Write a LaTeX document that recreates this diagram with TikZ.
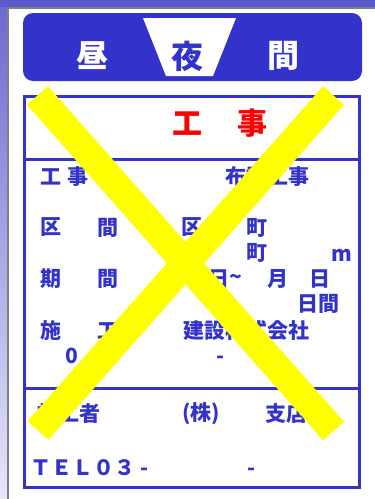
\documentclass[tikz,border=0pt]{standalone}
\usepackage{fontspec}
\newfontfamily\jp{Noto Sans CJK JP}
\definecolor{signblue}{HTML}{3333CC}
\definecolor{framepurple}{HTML}{5A5ACD}
\definecolor{crossyellow}{HTML}{FFFF00}

\tikzset{
	txt/.style={text=signblue,inner sep=0pt,font=\jp\bfseries\fontsize{21}{21}\selectfont},
	head/.style={inner sep=0pt,font=\jp\bfseries\fontsize{32}{32}\selectfont},
	title/.style={text=red,inner sep=0pt,font=\jp\bfseries\fontsize{30}{30}\selectfont},
}

\begin{document}
\begin{tikzpicture}[x=1pt,y=-1pt]
	\useasboundingbox (0,0) rectangle (375,499);

	% window edge
	\fill[framepurple] (0,0) rectangle (375,7);
	\shade[top color=framepurple!90,bottom color=framepurple!15] (0,7) rectangle (7,499);
	\fill[gray] (7,7) rectangle (9,499);
	\fill[gray] (7,7) rectangle (375,8.5);

	% banner
	\coordinate (b1) at (23,13);
	\coordinate (b2) at (362,81);
	\fill[signblue,rounded corners=10pt] (b1) rectangle (b2);
	\fill[white] (143,18) -- (236,18) -- (213,76) -- (166,76) -- cycle;
	\node[head,text=white] (hiru) at (92,56) {昼};
	\node[head,text=signblue] (yoru) at (187,56) {夜};
	\node[head,text=white] (kan) at (283,56) {間};

	% board
	\coordinate (p) at (24.5,96.5);
	\coordinate (q) at (359.5,487.5);
	\draw[signblue,line width=3pt] (p) rectangle (q);
	\draw[signblue,line width=3pt] (24.5,159) -- (359.5,159);
	\draw[signblue,line width=3pt] (24.5,388) -- (359.5,388);

	\node[title] (t1) at (187.5,123.5) {工};
	\node[title] (t2) at (252,123.5) {事};

	\node[txt] (r1a) at (51,177) {工};
	\node[txt] (r1b) at (78,177) {事};
	\node[txt] (r1c) at (267.5,177) {布設工事};

	\node[txt] (r2a) at (51,227.5) {区};
	\node[txt] (r2b) at (107.5,227.5) {間};
	\node[txt] (r2c) at (192,227.5) {区};
	\node[txt] (r2d) at (257,227.5) {町};
	\node[txt] (r2e) at (257,253) {町};
	\node[txt,anchor=base] (r2f) at (342,261) {m};

	\node[txt] (r3a) at (51,279) {期};
	\node[txt] (r3b) at (107.5,279) {間};
	\node[txt] (r3c) at (219,279) {日};
	\node[txt] (r3d) at (236,279) {\textasciitilde};
	\node[txt] (r3e) at (278,279) {月};
	\node[txt] (r3f) at (320,279) {日};
	\node[txt] (r3g) at (318,304) {日間};

	\node[txt] (r4a) at (51,331) {施};
	\node[txt] (r4b) at (107.5,331) {工};
	\node[txt] (r4c) at (246.5,331) {建設株式会社};
	\node[txt] (r4d) at (72,356) {0};
	\node[txt,anchor=base] (r4e) at (221,363) {-};

	\node[txt] (s1) at (69,414) {施工者};
	\node[txt] (s2) at (201,414) {(株)};
	\node[txt] (s3) at (286.5,414) {支店};

	\node[txt,anchor=west] (tel) at (30,467.5) {ＴＥＬ０３};
	\node[txt,anchor=base] (tel1) at (144.5,475) {-};
	\node[txt,anchor=base] (tel2) at (252,475) {-};

	% cross
	\draw[crossyellow,line width=28pt] (37.5,95.5) -- (333.5,431);
	\draw[crossyellow,line width=28pt] (333.5,95.5) -- (38,430.5);
\end{tikzpicture}
\end{document}
